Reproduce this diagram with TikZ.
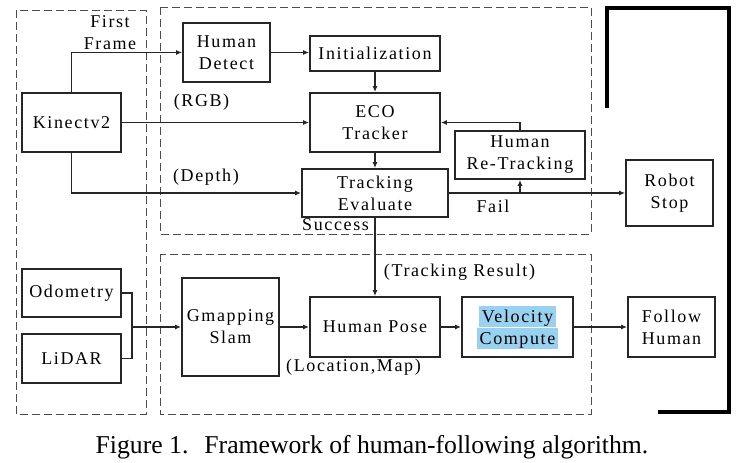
\documentclass[tikz,border=0pt]{standalone}
\usepackage{fontspec}
\setmainfont{Liberation Serif}
\newfontfamily\lsfont[LetterSpace=9]{Liberation Serif}
\usetikzlibrary{arrows.meta}
\definecolor{hlblue}{HTML}{99D1F0}
\newcommand\hlbox[1]{{\setlength\fboxsep{0pt}\colorbox{hlblue}{\rule[-4pt]{0pt}{21pt}\,#1\,}}}
\begin{document}
\begin{tikzpicture}[x=1pt,y=-1pt,
  every node/.style={font=\lsfont\fontsize{18}{22}\selectfont, inner sep=0pt},
  blk/.style={draw=black!85, line width=1.8pt, align=center, fill=white},
  lbl/.style={align=center},
  arr/.style={line width=1.3pt, draw=black!85, -{Latex[length=6pt,width=5pt]}},
  ln/.style={line width=1.3pt, draw=black!85},
  grp/.style={draw=black!70, line width=1pt, dash pattern=on 8pt off 4pt},
  brk/.style={draw=black, line width=4pt}]
\useasboundingbox (0,0) rectangle (753,463);
% dashed groups
\draw[grp] (16,10) rectangle (146,414);
\draw[grp] (160,7) rectangle (591,234);
\draw[grp] (160,254) rectangle (591,414);
% thick bracket
\draw[brk] (607,108) -- (607,8) -- (729,8) -- (729,412) -- (658,412);
% blocks
\node[blk, minimum width=99pt, minimum height=59pt] (kin) at (71.5,122.5) {Kinectv2};
\node[blk, minimum width=87pt, minimum height=59pt] (hd) at (226.5,52.5) {Human\\Detect};
\node[blk, minimum width=130pt, minimum height=35pt] (init) at (375,53.5) {Initialization};
\node[blk, minimum width=130pt, minimum height=59pt] (eco) at (375,122.5) {ECO\\Tracker};
\node[blk, minimum width=146pt, minimum height=48pt] (te) at (375,193) {Tracking\\Evaluate};
\node[blk, minimum width=130pt, minimum height=48pt] (hrt) at (520,155) {Human\\Re-Tracking};
\node[blk, minimum width=87pt, minimum height=66pt] (rs) at (669.5,193) {Robot\\Stop};
\node[blk, minimum width=99pt, minimum height=48pt] (odo) at (71.5,293) {Odometry};
\node[blk, minimum width=99pt, minimum height=49pt] (lidar) at (71.5,358.5) {LiDAR};
\node[blk, minimum width=97pt, minimum height=98pt] (gm) at (230.5,327) {Gmapping\\Slam};
\node[blk, minimum width=130pt, minimum height=60pt] (hp) at (375,327) {Human Pose};
\node[blk, minimum width=111pt, minimum height=60pt] (vc) at (517.5,327) {\hlbox{Velocity}\\\hlbox{Compute}};
\node[blk, minimum width=87pt, minimum height=60pt] (fh) at (671.5,327) {Follow\\Human};
% labels
\node[lbl] (ff) at (110,33) {First\\Frame};
\node[lbl] (rgb) at (201.5,102) {(RGB)};
\node[lbl] (dep) at (206,177) {(Depth)};
\node[lbl, anchor=west] (suc) at (302,225) {Success};
\node[lbl] (fail) at (493,206) {Fail};
\node[lbl] (tr) at (459.5,272) {(Tracking Result)};
\node[lbl] (lm) at (353.5,367) {(Location,Map)};
% coordinates
\coordinate (jm) at (132,327);
\coordinate (jf) at (hrt.south |- te.east);
% connectors
\draw[arr] (kin.north) |- (hd.west);
\draw[arr] (hd.east) -- (hd.east -| init.west);
\draw[arr] (init.south) -- (eco.north);
\draw[arr] (kin.east) -- (eco.west);
\draw[arr] (kin.south) |- (te.west);
\draw[arr] (eco.south) -- (te.north);
\draw[arr] (hrt.north) |- (eco.east);
\draw[ln, line width=1.8pt] (te.east) -- (jf);
\draw[arr] (jf) -- (rs.west);
\draw[arr] (jf) -- (hrt.south);
\draw[arr] (te.south) -- (hp.north);
\draw[ln] (odo.east) -| (jm) |- (lidar.east);
\draw[arr] (jm) -- (gm.west);
\draw[arr] (gm.east) -- (hp.west);
\draw[arr] (hp.east) -- (vc.west);
\draw[arr] (vc.east) -- (fh.west);
% caption
\node[font=\fontsize{25.7}{30}\selectfont, anchor=base] (cap) at (372,453) {Figure 1.\hspace{16pt}Framework of human-following algorithm.};
\end{tikzpicture}
\end{document}
